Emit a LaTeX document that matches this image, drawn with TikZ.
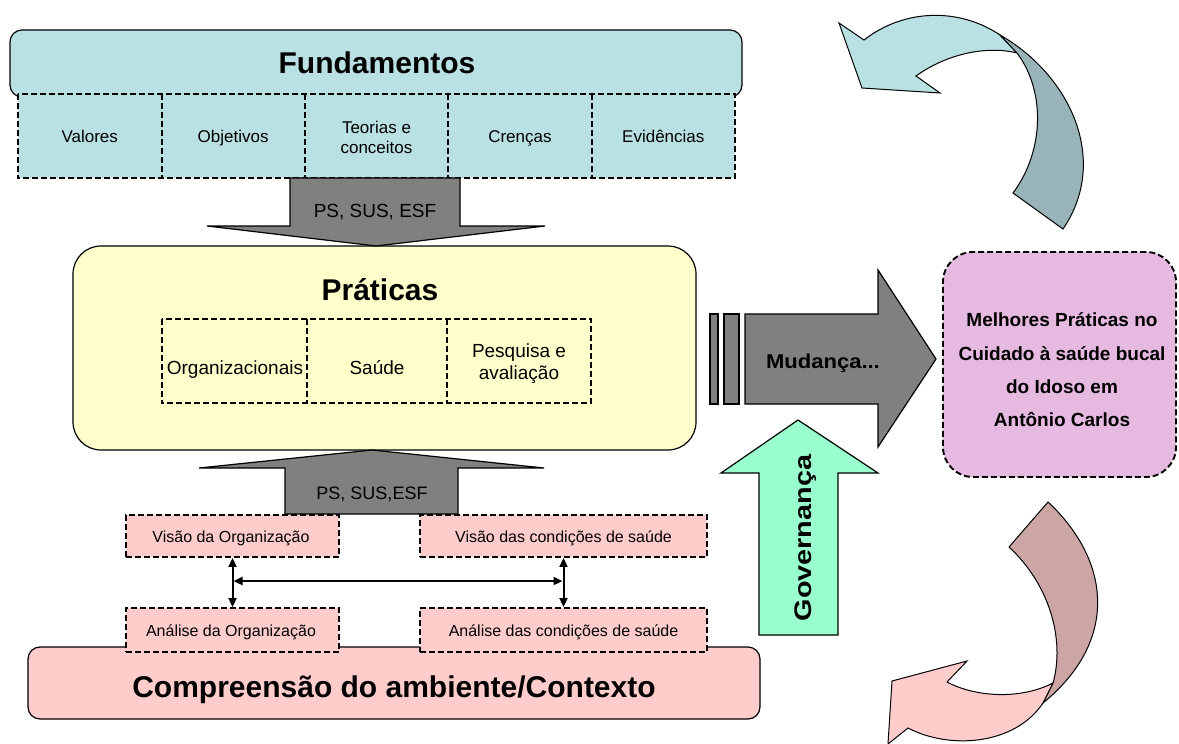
\documentclass[tikz,border=0pt]{standalone}
\usepackage{fontspec}
\setmainfont{Liberation Sans}
\usetikzlibrary{arrows.meta,calc}
\definecolor{fundblue}{HTML}{B9E0E3}
\definecolor{darkteal}{HTML}{98B4B8}
\definecolor{praticayellow}{HTML}{FFFFCC}
\definecolor{ctxpink}{HTML}{FFCCCC}
\definecolor{darkpink}{HTML}{CCA5A5}
\definecolor{arrowgrey}{HTML}{808080}
\definecolor{govgreen}{HTML}{99FFCC}
\definecolor{goalmagenta}{HTML}{E6B9E1}
\begin{document}
\begin{tikzpicture}[x=1pt,y=-1pt,
  solidbox/.style={draw=black, line width=1.2pt, inner sep=0pt},
  dashline/.style={draw=black, line width=1.9pt, dash pattern=on 6pt off 3pt},
  dashbox/.style={dashline, inner sep=0pt},
  cellfill/.style={inner sep=0pt},
  blockarrow/.style={draw=black, line width=1.2pt, fill=arrowgrey, line join=miter},
  txt/.style={inner sep=0pt, align=center},
  titlefont/.style={font=\bfseries\fontsize{30}{36}\selectfont},
  smallfont/.style={font=\fontsize{17}{20}\selectfont},
  midfont/.style={font=\fontsize{19}{22}\selectfont},
  pinkfont/.style={font=\fontsize{16}{19}\selectfont},
  dbl/.style={{Triangle[length=9pt,width=8pt]}-{Triangle[length=9pt,width=8pt]}, line width=2pt},
  ribbon/.style={draw=black, line width=1pt, line join=miter}
]
\useasboundingbox (0,0) rectangle (1179,744);

% ---------- Fundamentos ----------
\node[solidbox, fill=fundblue, rounded corners=12pt, minimum width=732, minimum height=67] (fundbox) at (376,63.5) {};
\node[txt, titlefont, anchor=base] (fundtitle) at (377,73) {Fundamentos};
\node[cellfill, fill=fundblue, minimum width=143.4, minimum height=84] (valores) at (89.7,136) {};
\node[cellfill, fill=fundblue, minimum width=143.4, minimum height=84] (objetivos) at (233.1,136) {};
\node[cellfill, fill=fundblue, minimum width=143.4, minimum height=84] (teorias) at (376.5,136) {};
\node[cellfill, fill=fundblue, minimum width=143.4, minimum height=84] (crencas) at (519.9,136) {};
\node[cellfill, fill=fundblue, minimum width=143.4, minimum height=84] (evidencias) at (663.3,136) {};
\draw[dashline] (valores.north west) rectangle (evidencias.south east);
\draw[dashline] (valores.north east) -- (valores.south east);
\draw[dashline] (objetivos.north east) -- (objetivos.south east);
\draw[dashline] (teorias.north east) -- (teorias.south east);
\draw[dashline] (crencas.north east) -- (crencas.south east);
\node[txt, smallfont, anchor=base] (tvalores) at (89.7,142) {Valores};
\node[txt, smallfont, anchor=base] (tobjetivos) at (233.1,142) {Objetivos};
\node[txt, smallfont] (tteorias) at (376.5,137) {Teorias e\\conceitos};
\node[txt, smallfont, anchor=base] (tcrencas) at (519.9,142) {Crenças};
\node[txt, smallfont, anchor=base] (tevidencias) at (663.3,142) {Evidências};

% ---------- Práticas ----------
\node[solidbox, fill=praticayellow, rounded corners=28pt, minimum width=623, minimum height=204] (praticas) at (384.5,348) {};
\node[txt, titlefont, anchor=base] (pratitle) at (380,300) {Práticas};
\node[cellfill, minimum width=145, minimum height=84] (org) at (234.5,361) {};
\node[cellfill, minimum width=140, minimum height=84] (saude) at (377,361) {};
\node[cellfill, minimum width=144, minimum height=84] (pesquisa) at (519,361) {};
\draw[dashline] (org.north west) rectangle (pesquisa.south east);
\draw[dashline] (org.north east) -- (org.south east);
\draw[dashline] (saude.north east) -- (saude.south east);
\node[txt, midfont, anchor=base] (torg) at (235,374) {Organizacionais};
\node[txt, midfont, anchor=base] (tsaude) at (377,374) {Saúde};
\node[txt, midfont] (tpesquisa) at (519,364) {Pesquisa e\\avaliação};

% ---------- down arrow ----------
\draw[blockarrow] (290,178) -- (460,178) -- (460,226) -- (545,226) -- (376,246) -- (207,226) -- (290,226) -- cycle;
\node[txt, midfont, anchor=base] (downlabel) at (375,217) {PS, SUS, ESF};

% ---------- up arrow ----------
\draw[blockarrow] (285,514) -- (285,468) -- (199,468) -- (372,450) -- (544,468) -- (458,468) -- (458,514) -- cycle;
\node[txt, font=\fontsize{18}{21}\selectfont, anchor=base] (uplabel) at (372,499) {PS, SUS,ESF};

% ---------- Compreensão ----------
\node[solidbox, fill=ctxpink, rounded corners=12pt, minimum width=732, minimum height=72] (contexto) at (394,683) {};
\node[txt, titlefont, anchor=base] (ctxtitle) at (394,697) {Compreensão do ambiente/Contexto};

% ---------- pink dashed boxes ----------
\node[dashbox, fill=ctxpink, minimum width=213, minimum height=42] (visaoorg) at (232.5,536) {};
\node[dashbox, fill=ctxpink, minimum width=287, minimum height=42] (visaosaude) at (563.5,536) {};
\node[dashbox, fill=ctxpink, minimum width=213, minimum height=44] (analiseorg) at (232.5,630) {};
\node[dashbox, fill=ctxpink, minimum width=287, minimum height=44] (analisesaude) at (563.5,630) {};
\node[txt, pinkfont, anchor=base] (tvisaoorg) at (231,542) {Visão da Organização};
\node[txt, pinkfont, anchor=base] (tvisaosaude) at (563.5,542) {Visão das condições de saúde};
\node[txt, pinkfont, anchor=base] (tanaliseorg) at (231,636) {Análise da Organização};
\node[txt, pinkfont, anchor=base] (tanalisesaude) at (563.5,636) {Análise das condições de saúde};

\draw[dbl] (visaoorg.south) -- (analiseorg.north);
\draw[dbl] (visaosaude.south) -- (analisesaude.north);
\coordinate (hleft) at ($(visaoorg.south)!0.47!(analiseorg.north)$);
\coordinate (hright) at ($(visaosaude.south)!0.47!(analisesaude.north)$);
\draw[dbl] ([xshift=1pt]hleft) -- ([xshift=-1pt]hright);

% ---------- Mudança arrow ----------
\draw[blockarrow] (710,314) rectangle (718,404);
\draw[blockarrow] (724,314) rectangle (739,404);
\draw[blockarrow] (745,314) -- (878,314) -- (878,270) -- (936,359) -- (878,447) -- (878,404) -- (745,404) -- cycle;
\node[txt, font=\bfseries\fontsize{20}{24}\selectfont, anchor=base] (mudanca) at (823,368) {\scalebox{1.1}[1]{Mudança...}};

% ---------- Governança arrow ----------
\draw[blockarrow, fill=govgreen] (759,635) -- (759,473) -- (721,473) -- (798,420) -- (878,473) -- (838,473) -- (838,635) -- cycle;
\node[txt, font=\bfseries\fontsize{24}{28}\selectfont, anchor=base, rotate=90] (governanca) at (811,538) {\scalebox{1.2}[1]{Governança}};

% ---------- goal box ----------
\node[dashbox, fill=goalmagenta, rounded corners=30pt, minimum width=233, minimum height=225] (goal) at (1059.5,364.5) {};
\node[txt, font=\bfseries\fontsize{19}{33.3}\selectfont] (goaltext) at (1062,370) {Melhores Práticas no\\Cuidado à saúde bucal\\do Idoso em\\Antônio Carlos};

% ---------- top curved arrow ----------
\draw[ribbon, fill=fundblue] (1000,35) .. controls (960,8) and (905,8) .. (864,40) -- (839,23) -- (862,88) -- (940,93) -- (916,76) .. controls (945,55) and (985,45) .. (1017,53) -- cycle;
\draw[ribbon, fill=darkteal] (1000,35) .. controls (1070,75) and (1110,160) .. (1063,229) -- (1013,193) .. controls (1045,150) and (1045,90) .. (1017,53) -- cycle;

% ---------- bottom curved arrow ----------
\draw[ribbon, fill=darkpink] (1048,502) .. controls (1110,560) and (1120,640) .. (1043,703) -- (1053,683) .. controls (1065,640) and (1050,585) .. (1009,547) -- cycle;
\draw[ribbon, fill=ctxpink] (1053,683) .. controls (1020,700) and (975,697) .. (947,682) -- (967,661) -- (892,681) -- (888,744) -- (908,728) .. controls (950,750) and (1015,745) .. (1043,703) -- cycle;
\end{tikzpicture}
\end{document}
